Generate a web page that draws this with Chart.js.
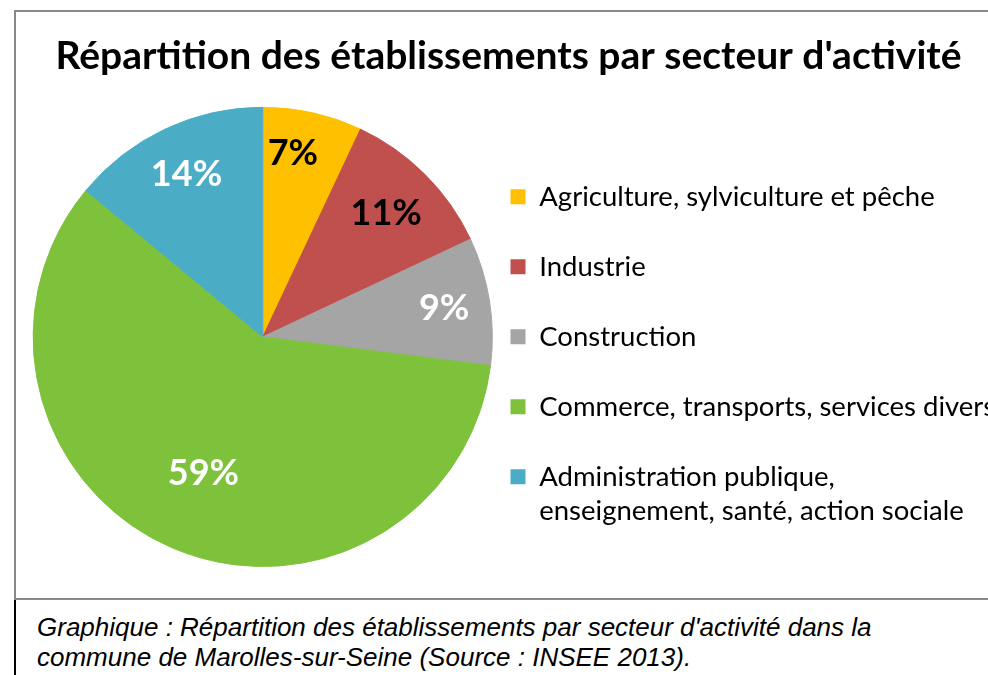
<!DOCTYPE html>
<html lang="fr">
<head>
<meta charset="utf-8">
<title>Établissements par secteur d'activité</title>
<script src="https://cdn.jsdelivr.net/npm/chart.js@4.4.1/dist/chart.umd.min.js"></script>
<style>
  body { margin: 0; background: #fff; width: 988px; height: 675px; overflow: hidden; position: relative; }
  #cadre { position: absolute; left: 14px; top: 10px; width: 980px; height: 586px; border: 2px solid #888; }
  #cadre canvas { position: absolute; left: 0; top: 0; }
  #note { position: absolute; left: 14px; top: 600px; width: 990px; height: 80px; border-left: 2px solid #000; }
  #note p { position: absolute; left: 21px; top: 12px; margin: 0; color: #000;
            font: italic 26px "Liberation Sans", Arial, sans-serif; line-height: 30px; white-space: nowrap; }
</style>
</head>
<body>
<div id="cadre"><canvas id="graphique" width="972" height="586"></canvas></div>
<div id="note"><p>Graphique : Répartition des établissements par secteur d'activité dans la<br>commune de Marolles-sur-Seine (Source : INSEE 2013).</p></div>
<script>
// secteurs d'activité (le \n marque le retour à la ligne dans la légende)
const secteurs = [
  'Agriculture, sylviculture et pêche',
  'Industrie',
  'Construction',
  'Commerce, transports, services divers',
  'Administration publique,\nenseignement, santé, action sociale'
];
// part des établissements, en %
const parts = [7, 11, 9, 59, 14];
const couleurs = ['#FFC000', '#C0504D', '#A5A5A5', '#7DC23A', '#4BACC6'];
const couleursTexte = ['#000', '#000', '#fff', '#fff', '#fff'];

// pourcentages écrits dans les parts
const etiquettesParts = {
  id: 'etiquettesParts',
  afterDatasetsDraw(chart, args, opts) {
    const ctx = chart.ctx;
    const meta = chart.getDatasetMeta(0);
    ctx.save();
    ctx.font = 'bold 36px Lato';
    ctx.textAlign = 'center';
    ctx.textBaseline = 'middle';
    meta.data.forEach(function(arc, i) {
      const p = arc.getProps(['x', 'y', 'startAngle', 'endAngle', 'outerRadius'], true);
      const a = p.startAngle + (p.endAngle - p.startAngle) * opts.position[i];
      const r = p.outerRadius * opts.distance[i];
      ctx.fillStyle = couleursTexte[i];
      ctx.fillText(parts[i] + '%', p.x + Math.cos(a) * r, p.y + Math.sin(a) * r);
    });
    ctx.restore();
  }
};

new Chart(document.getElementById('graphique'), {
  type: 'pie',
  data: {
    labels: secteurs,
    datasets: [{
      data: parts,
      backgroundColor: couleurs,
      borderColor: couleurs,
      borderWidth: 1
    }]
  },
  plugins: [etiquettesParts],
  options: {
    responsive: false,
    animation: false,
    layout: { padding: { left: 1, right: -12, top: 0, bottom: 31 } },
    plugins: {
      tooltip: { enabled: false },
      title: {
        display: true,
        text: "Répartition des établissements par secteur d'activité",
        color: '#000',
        font: { family: 'Lato', size: 39, weight: 'bold', lineHeight: 1.2 },
        padding: { top: 21, bottom: 27 }
      },
      legend: {
        position: 'right',
        align: 'center',
        fullSize: false,
        // espace vide au-dessus des entrées pour les centrer sur le camembert
        title: { display: true, text: '', padding: 0, font: { size: 12, lineHeight: '40px' } },
        labels: {
          color: '#000',
          font: { family: 'Lato', size: 27.5, lineHeight: '34px' },
          boxWidth: 15,
          boxHeight: 15,
          padding: 2,
          generateLabels(chart) {
            const ds = chart.data.datasets[0];
            return chart.data.labels.map(function(label, i) {
              const lignes = label.split('\n');
              while (lignes.length < 2) lignes.push('');
              return { text: lignes, fillStyle: ds.backgroundColor[i], strokeStyle: ds.backgroundColor[i],
                       lineWidth: 0, hidden: false, index: i, fontColor: '#000' };
            });
          }
        }
      },
      etiquettesParts: {
        position: [0.37, 0.5, 0.5, 0.5, 0.5],
        distance: [0.81, 0.76, 0.80, 0.65, 0.78]
      }
    }
  }
});
</script>
</body>
</html>
